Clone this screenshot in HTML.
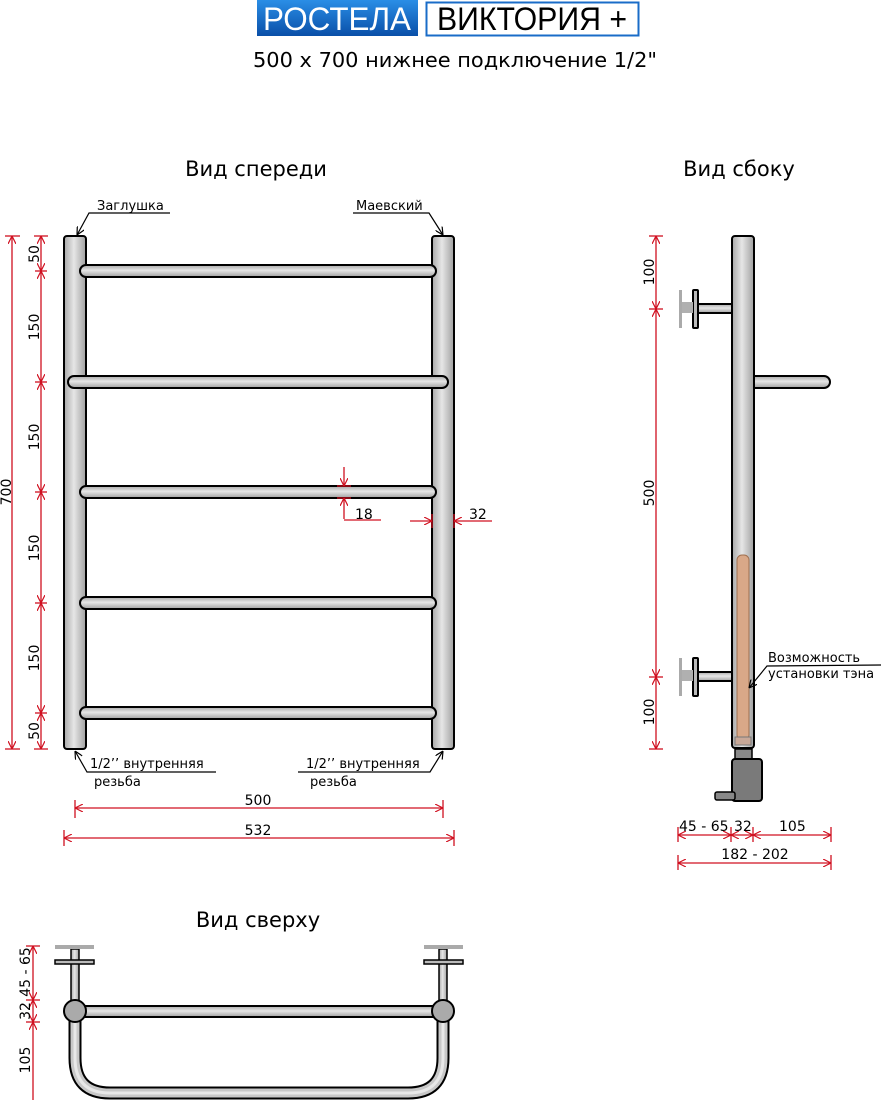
<!DOCTYPE html>
<html><head><meta charset="utf-8"><style>
html,body{margin:0;padding:0;background:#fff;}
svg{display:block;font-family:"DejaVu Sans","Liberation Sans",sans-serif;}
</style></head><body>
<svg width="881" height="1100" viewBox="0 0 881 1100" xmlns="http://www.w3.org/2000/svg">
<defs>
<linearGradient id="gv" x1="0" y1="0" x2="1" y2="0">
<stop offset="0" stop-color="#a8a8a8"/><stop offset="0.45" stop-color="#e6e6e6"/><stop offset="1" stop-color="#a0a0a0"/></linearGradient>
<linearGradient id="gh" x1="0" y1="0" x2="0" y2="1">
<stop offset="0" stop-color="#a8a8a8"/><stop offset="0.45" stop-color="#e6e6e6"/><stop offset="1" stop-color="#a0a0a0"/></linearGradient>
<linearGradient id="gb" x1="0" y1="0" x2="0" y2="1">
<stop offset="0" stop-color="#2a8ee6"/><stop offset="1" stop-color="#0a4fa8"/></linearGradient>
<marker id="a" viewBox="0 0 10 10" refX="10" refY="5" markerWidth="8" markerHeight="8" orient="auto-start-reverse" markerUnits="userSpaceOnUse">
<path d="M0,0 L10,5 L0,10" fill="none" stroke="#d01020" stroke-width="1.5"/></marker>
<marker id="k" viewBox="0 0 10 10" refX="10" refY="5" markerWidth="8" markerHeight="8" orient="auto" markerUnits="userSpaceOnUse">
<path d="M0,0 L10,5 L0,10" fill="none" stroke="#000" stroke-width="1.5"/></marker>
</defs>

<!-- header -->
<rect x="257" y="0" width="161" height="36" fill="url(#gb)"/>
<text x="337" y="30" font-family="Liberation Sans,sans-serif" font-size="32" fill="#fff" text-anchor="middle" textLength="148" lengthAdjust="spacingAndGlyphs">РОСТЕЛА</text>
<rect x="426.5" y="2.5" width="212" height="33" fill="#fff" stroke="#1a6cc8" stroke-width="2"/>
<text x="532" y="30" font-family="Liberation Sans,sans-serif" font-size="32" fill="#000" text-anchor="middle" textLength="190" lengthAdjust="spacingAndGlyphs">ВИКТОРИЯ +</text>
<text x="455" y="67" font-size="20" text-anchor="middle" textLength="404" lengthAdjust="spacingAndGlyphs">500 x 700 нижнее подключение 1/2"</text>

<text x="256" y="176" font-size="21" text-anchor="middle">Вид спереди</text>
<text x="739" y="176" font-size="21" text-anchor="middle">Вид сбоку</text>
<text x="258" y="927" font-size="21" text-anchor="middle">Вид сверху</text>

<!-- front view pipes -->
<g stroke="#000" stroke-width="2" fill="url(#gv)">
<rect x="64" y="236" width="22" height="513" rx="3"/>
<rect x="432" y="236" width="22" height="513" rx="3"/>
</g>
<g stroke="#000" stroke-width="2" fill="url(#gh)">
<rect x="80" y="265" width="356" height="12" rx="6"/>
<rect x="68" y="376" width="380" height="12" rx="6"/>
<rect x="80" y="486" width="356" height="12" rx="6"/>
<rect x="80" y="597" width="356" height="12" rx="6"/>
<rect x="80" y="707" width="356" height="12" rx="6"/>
</g>

<!-- labels front -->
<g font-size="13">
<text x="97" y="210">Заглушка</text>
<text x="356" y="210">Маевский</text>
<text x="90" y="768">1/2’’ внутренняя</text>
<text x="94" y="786">резьба</text>
<text x="306" y="768">1/2’’ внутренняя</text>
<text x="310" y="786">резьба</text>
</g>
<g stroke="#000" stroke-width="1.2" fill="none">
<path d="M170,213 H89 L77,235" marker-end="url(#k)"/>
<path d="M353,213 H429 L443,235" marker-end="url(#k)"/>
<path d="M216,772 H87 L75,751" marker-end="url(#k)"/>
<path d="M298,772 H430 L443,751" marker-end="url(#k)"/>
</g>

<!-- red dims front -->
<g stroke="#d01020" stroke-width="1.3" fill="none">
<line x1="12" y1="236" x2="12" y2="749" marker-start="url(#a)" marker-end="url(#a)"/>
<line x1="5" y1="236" x2="20" y2="236"/><line x1="5" y1="749" x2="20" y2="749"/>
<line x1="34" y1="236" x2="48" y2="236"/><line x1="34" y1="749" x2="48" y2="749"/>
<line x1="41" y1="236" x2="41" y2="271" marker-start="url(#a)" marker-end="url(#a)"/>
<line x1="41" y1="271" x2="41" y2="382" marker-start="url(#a)" marker-end="url(#a)"/>
<line x1="41" y1="382" x2="41" y2="492" marker-start="url(#a)" marker-end="url(#a)"/>
<line x1="41" y1="492" x2="41" y2="603" marker-start="url(#a)" marker-end="url(#a)"/>
<line x1="41" y1="603" x2="41" y2="713" marker-start="url(#a)" marker-end="url(#a)"/>
<line x1="41" y1="713" x2="41" y2="749" marker-start="url(#a)" marker-end="url(#a)"/>
<line x1="35" y1="271" x2="47" y2="271"/><line x1="35" y1="382" x2="47" y2="382"/>
<line x1="35" y1="492" x2="47" y2="492"/><line x1="35" y1="603" x2="47" y2="603"/>
<line x1="35" y1="713" x2="47" y2="713"/>
<line x1="75" y1="808" x2="443" y2="808" marker-start="url(#a)" marker-end="url(#a)"/>
<line x1="75" y1="800" x2="75" y2="818"/><line x1="443" y1="800" x2="443" y2="818"/>
<line x1="64" y1="838" x2="454" y2="838" marker-start="url(#a)" marker-end="url(#a)"/>
<line x1="64" y1="830" x2="64" y2="846"/><line x1="454" y1="830" x2="454" y2="846"/>
<line x1="344" y1="467" x2="344" y2="486" marker-end="url(#a)"/>
<line x1="344" y1="519" x2="344" y2="498" marker-end="url(#a)"/>
<line x1="344" y1="520" x2="381" y2="520"/>
<line x1="337" y1="486" x2="351" y2="486"/><line x1="337" y1="498" x2="351" y2="498"/>
<line x1="410" y1="521" x2="432" y2="521" marker-end="url(#a)"/>
<line x1="492" y1="521" x2="454" y2="521" marker-end="url(#a)"/>
<line x1="432" y1="514" x2="432" y2="528"/><line x1="454" y1="514" x2="454" y2="528"/>
</g>
<g font-size="14" fill="#000">
<text transform="translate(11,492) rotate(-90)" text-anchor="middle">700</text>
<text transform="translate(39,254) rotate(-90)" text-anchor="middle">50</text>
<text transform="translate(39,327) rotate(-90)" text-anchor="middle">150</text>
<text transform="translate(39,437) rotate(-90)" text-anchor="middle">150</text>
<text transform="translate(39,548) rotate(-90)" text-anchor="middle">150</text>
<text transform="translate(39,658) rotate(-90)" text-anchor="middle">150</text>
<text transform="translate(39,731) rotate(-90)" text-anchor="middle">50</text>
<text x="258" y="805" text-anchor="middle">500</text>
<text x="258" y="835" text-anchor="middle">532</text>
<text x="355" y="519">18</text>
<text x="469" y="519">32</text>
</g>

<!-- side view -->
<g stroke="#000" stroke-width="2">
<rect x="749" y="376" width="81" height="12" rx="6" fill="url(#gh)"/>
<rect x="697" y="304" width="37" height="9" fill="url(#gh)"/>
<rect x="697" y="672" width="37" height="9" fill="url(#gh)"/>
<rect x="693" y="290" width="5" height="38" rx="1" fill="#bbb"/>
<rect x="693" y="658" width="5" height="38" rx="1" fill="#bbb"/>
</g>
<rect x="679" y="290" width="3" height="38" fill="#aaa"/>
<rect x="682" y="302" width="11" height="11" fill="#b0b0b0"/>
<rect x="679" y="658" width="3" height="38" fill="#aaa"/>
<rect x="682" y="670" width="11" height="11" fill="#b0b0b0"/>
<rect x="732" y="236" width="22" height="512" rx="3" fill="url(#gv)" stroke="#000" stroke-width="2"/>
<rect x="737" y="555" width="12" height="185" rx="5" fill="#d9a888" stroke="#a07050" stroke-width="1"/>
<rect x="735" y="737" width="16" height="8" fill="#c8a898" stroke="#777" stroke-width="1"/>
<rect x="735" y="749" width="17" height="11" fill="#888" stroke="#000" stroke-width="1.5"/>
<rect x="732" y="759" width="30" height="42" rx="3" fill="#7a7a7a" stroke="#000" stroke-width="2"/>
<rect x="715" y="792" width="20" height="8" rx="2" fill="#888" stroke="#000" stroke-width="1.5"/>
<g font-size="13">
<text x="768" y="662">Возможность</text>
<text x="768" y="678">установки тэна</text>
</g>
<path d="M881,665 L767,666 L749,688" stroke="#000" stroke-width="1.2" fill="none" marker-end="url(#k)"/>
<g stroke="#d01020" stroke-width="1.3" fill="none">
<line x1="656" y1="236" x2="656" y2="309" marker-start="url(#a)" marker-end="url(#a)"/>
<line x1="656" y1="309" x2="656" y2="677" marker-start="url(#a)" marker-end="url(#a)"/>
<line x1="656" y1="677" x2="656" y2="749" marker-start="url(#a)" marker-end="url(#a)"/>
<line x1="649" y1="236" x2="663" y2="236"/><line x1="649" y1="309" x2="663" y2="309"/>
<line x1="649" y1="677" x2="663" y2="677"/><line x1="649" y1="749" x2="663" y2="749"/>
<line x1="678" y1="835" x2="731" y2="835" marker-start="url(#a)" marker-end="url(#a)"/>
<line x1="731" y1="835" x2="753" y2="835" marker-start="url(#a)" marker-end="url(#a)"/>
<line x1="753" y1="835" x2="831" y2="835" marker-start="url(#a)" marker-end="url(#a)"/>
<line x1="678" y1="827" x2="678" y2="842"/><line x1="731" y1="827" x2="731" y2="842"/>
<line x1="753" y1="827" x2="753" y2="842"/><line x1="831" y1="827" x2="831" y2="842"/>
<line x1="678" y1="863" x2="831" y2="863" marker-start="url(#a)" marker-end="url(#a)"/>
<line x1="678" y1="855" x2="678" y2="870"/><line x1="831" y1="855" x2="831" y2="870"/>
</g>
<g font-size="14" fill="#000">
<text transform="translate(654,272) rotate(-90)" text-anchor="middle">100</text>
<text transform="translate(654,493) rotate(-90)" text-anchor="middle">500</text>
<text transform="translate(654,712) rotate(-90)" text-anchor="middle">100</text>
<text x="679" y="831">45 - 65</text>
<text x="734" y="831">32</text>
<text x="779" y="831">105</text>
<text x="755" y="859" text-anchor="middle">182 - 202</text>
</g>

<!-- top view -->
<path d="M75,1011 V1058 Q75,1093 110,1093 H408 Q443,1093 443,1058 V1011" fill="none" stroke="#000" stroke-width="13"/>
<path d="M75,1011 V1058 Q75,1093 110,1093 H408 Q443,1093 443,1058 V1011" fill="none" stroke="#c8c8c8" stroke-width="9"/>
<path d="M75,1011 V1058 Q75,1093 110,1093 H408 Q443,1093 443,1058 V1011" fill="none" stroke="#e8e8e8" stroke-width="3"/>
<rect x="75" y="1006" width="368" height="11" fill="url(#gh)" stroke="#000" stroke-width="2"/>
<g stroke="#000" stroke-width="1.5">
<rect x="71" y="949" width="8" height="56" fill="url(#gv)"/>
<rect x="439" y="949" width="8" height="56" fill="url(#gv)"/>
<rect x="55" y="960" width="39" height="4" fill="#bbb"/>
<rect x="424" y="960" width="39" height="4" fill="#bbb"/>
</g>
<rect x="55" y="945" width="39" height="4" fill="#aaa"/>
<rect x="424" y="945" width="39" height="4" fill="#aaa"/>
<circle cx="75" cy="1011" r="11" fill="#aaa" stroke="#000" stroke-width="2"/>
<circle cx="443" cy="1011" r="11" fill="#aaa" stroke="#000" stroke-width="2"/>
<g stroke="#d01020" stroke-width="1.3" fill="none">
<line x1="33" y1="946" x2="33" y2="1000" marker-start="url(#a)" marker-end="url(#a)"/>
<line x1="33" y1="1000" x2="33" y2="1022" marker-start="url(#a)" marker-end="url(#a)"/>
<line x1="33" y1="1022" x2="33" y2="1100" marker-start="url(#a)"/>
<line x1="26" y1="946" x2="40" y2="946"/><line x1="26" y1="1000" x2="40" y2="1000"/>
<line x1="26" y1="1022" x2="40" y2="1022"/>
</g>
<g font-size="14">
<text transform="translate(30,972) rotate(-90)" text-anchor="middle">45 - 65</text>
<text transform="translate(30,1011) rotate(-90)" text-anchor="middle">32</text>
<text transform="translate(30,1060) rotate(-90)" text-anchor="middle">105</text>
</g>
</svg>
</body></html>
